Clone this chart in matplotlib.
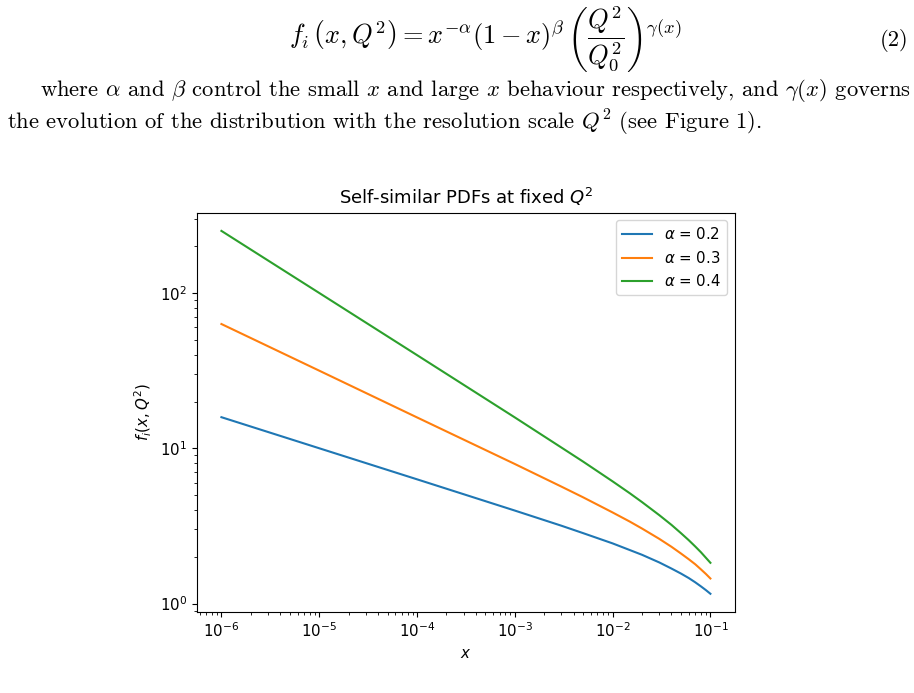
import matplotlib
matplotlib.use("Agg")
import matplotlib.pyplot as plt

# sample points
x_vals = [1e-6, 1e-5, 1e-4, 1e-3, 3e-3, 5e-3, 1e-2, 1.5e-2, 2e-2, 3e-2, 4e-2,
          5e-2, 6e-2, 7e-2, 8e-2, 9e-2, 1e-1]
alpha_02 = [15.85, 10.0, 6.31, 3.97, 3.17, 2.84, 2.44, 2.21, 2.06, 1.84, 1.68,
            1.56, 1.46, 1.37, 1.29, 1.22, 1.156]
alpha_03 = [63.1, 31.6, 15.8, 7.92, 5.66, 4.83, 3.86, 3.37, 3.04, 2.61, 2.32,
            2.10, 1.93, 1.79, 1.66, 1.55, 1.45]
alpha_04 = [251, 100, 39.8, 15.8, 10.1, 8.20, 6.12, 5.13, 4.50, 3.71, 3.21,
            2.84, 2.56, 2.33, 2.14, 1.97, 1.83]
labels = [r"$\alpha$ = 0.2", r"$\alpha$ = 0.3", r"$\alpha$ = 0.4"]

plt.rcParams["mathtext.fontset"] = "dejavusans"
fs = 10.8

fig = plt.figure(figsize=(9.14, 6.93), dpi=100)

# page text above the figure
serif = dict(family="cmr10", math_fontfamily="cm")
fig.text(0.531, 0.942,
         r"$f_i\,\left(x, Q^2\right) = x^{-\alpha}(1-x)^{\beta}\,\left(\dfrac{Q^2}{Q_0^2}\right)^{\gamma(x)}$",
         ha="center", va="center", fontsize=19, **serif)
fig.text(0.994, 0.942, "(2)", ha="right", va="center", fontsize=16.3, **serif)
fig.text(0.044, 0.870, r"where $\alpha$ and $\beta$ control the small $x$ and large $x$ behaviour respectively, and $\gamma(x)$ governs",
         ha="left", va="center", fontsize=16.3, **serif)
fig.text(0.008, 0.822, r"the evolution of the distribution with the resolution scale $Q^2$ (see Figure 1).",
         ha="left", va="center", fontsize=16.3, **serif)

ax = fig.add_axes([0.2155, 0.117, 0.5885, 0.576])
ax.plot(x_vals, alpha_02, label=labels[0])
ax.plot(x_vals, alpha_03, label=labels[1])
ax.plot(x_vals, alpha_04, label=labels[2])
ax.set_xscale("log")
ax.set_yscale("log")
ax.set_xlabel(r"$x$", fontsize=fs)
ax.set_ylabel(r"$f_i(x, Q^2)$", fontsize=fs)
ax.set_title(r"Self-similar PDFs at fixed $Q^2$", fontsize=fs * 1.2)
ax.tick_params(labelsize=fs)
ax.legend(fontsize=fs)

fig.savefig("out.png", dpi=100)
